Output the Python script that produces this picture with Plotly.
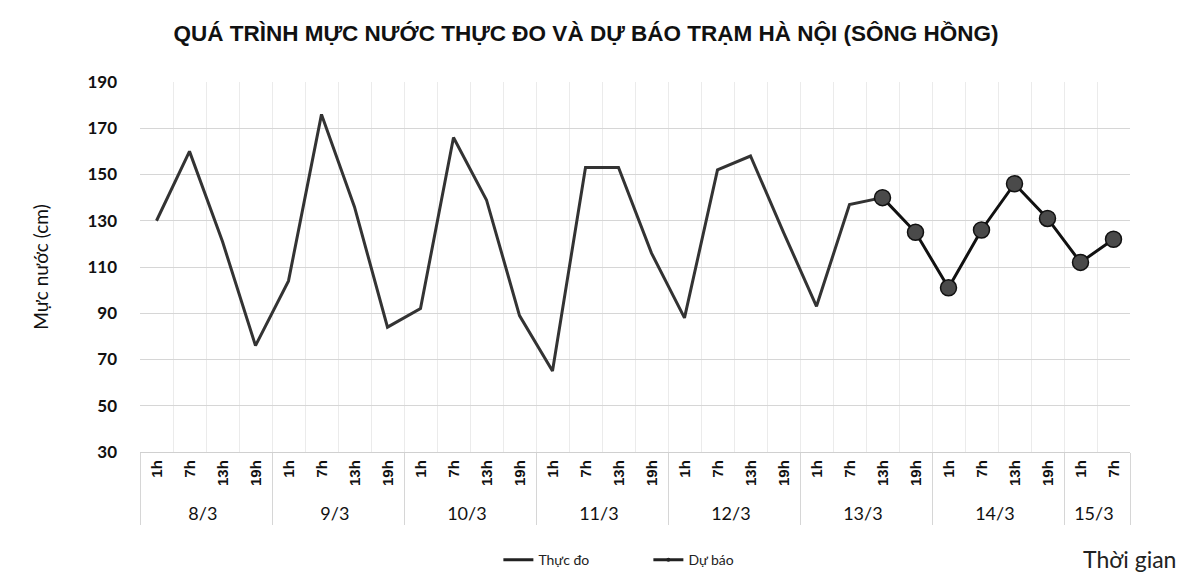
import plotly.graph_objects as go

day_names = ["8/3", "9/3", "10/3", "11/3", "12/3", "13/3", "14/3", "15/3"]
hour_names = ["1h", "7h", "13h", "19h"]
days = [d for d in day_names[:-1] for _ in range(4)] + ["15/3"] * 2
hours = hour_names * 7 + ["1h", "7h"]

# Thực đo (measured) – up to 13/3 13h (joins the forecast)
measured = [130, 160, 121, 76,
            104, 176, 136, 84,
            92, 166, 139, 89,
            65, 153, 153, 116,
            88, 152, 158, 125,
            93, 137, 140, None,
            None, None, None, None,
            None, None]
# Dự báo (forecast) – from 13/3 13h
forecast = [None, None, None, None,
            None, None, None, None,
            None, None, None, None,
            None, None, None, None,
            None, None, None, None,
            None, None, 140, 125,
            101, 126, 146, 131,
            112, 122]

y_ticks = [30, 50, 70, 90, 110, 130, 150, 170, 190]

FONT = "Liberation Sans"
LAB = "Lato"

hour_lbl = ["<span style='font-size:15px;font-family:Liberation Sans'><b>%s</b></span>" % h for h in hours]
X = [days, hour_lbl]

fig = go.Figure()
fig.add_trace(go.Scatter(
    x=X, y=measured, mode="lines", name="Thực đo", showlegend=False,
    line=dict(color="#333333", width=3), connectgaps=False))
fig.add_trace(go.Scatter(
    x=X, y=forecast, mode="lines+markers", name="Dự báo", showlegend=False,
    line=dict(color="#111111", width=3),
    marker=dict(size=16, color="#4a4a4a", line=dict(color="#111111", width=1.5))))
# legend entries (small symbols as in the reference legend)
fig.add_trace(go.Scatter(
    x=[[days[0]], [hour_lbl[0]]], y=[None], mode="lines", name="Thực đo",
    line=dict(color="#222222", width=3)))
fig.add_trace(go.Scatter(
    x=[[days[0]], [hour_lbl[0]]], y=[None], mode="lines+markers", name="Dự báo",
    line=dict(color="#222222", width=3),
    marker=dict(size=4, color="#222222")))

fig.update_layout(
    width=1200, height=582,
    margin=dict(l=132, r=78, t=74, b=138, autoexpand=False),
    paper_bgcolor="white", plot_bgcolor="white",
    title=dict(text="<b>QUÁ TRÌNH MỰC NƯỚC THỰC ĐO VÀ DỰ BÁO TRẠM HÀ NỘI (SÔNG HỒNG)</b>",
               x=578 / 1200, xanchor="center", y=0.957, yanchor="middle",
               font=dict(family=FONT, size=22.5, color="#111111")),
    showlegend=True,
    legend=dict(orientation="h", x=0.362, xanchor="left", y=-0.292, yanchor="middle",
                font=dict(family=LAB, size=14, color="#222222"),
                entrywidth=105, entrywidthmode="pixels",
                bgcolor="rgba(0,0,0,0)"),
    font=dict(family=LAB, color="#222222"),
)

fig.update_xaxes(
    type="multicategory",
    range=[-0.5, 29.5],
    automargin=False,
    showgrid=True, gridcolor="#ebebeb", gridwidth=1,
    showline=True, linecolor="#d0d0d0", linewidth=1,
    tickangle=-90,
    tickfont=dict(family=LAB, size=18, color="#111111"),
    showdividers=True, dividercolor="#d6d6d6", dividerwidth=1,
    ticks="",
)
fig.update_yaxes(
    range=[30, 190],
    tickvals=y_ticks,
    automargin=False,
    showgrid=True, gridcolor="#d6d6d6", gridwidth=1,
    zeroline=False, showline=False,
    tickfont=dict(family=LAB, size=17, color="#111111", weight="bold"),
    ticklabelstandoff=22,
    title=dict(text="Mực nước (cm)", font=dict(family=LAB, size=19, color="#111111"), standoff=33),
)

fig.add_annotation(text="Thời gian", xref="paper", yref="paper",
                   x=1.048, y=-0.29, xanchor="right", yanchor="middle",
                   showarrow=False, font=dict(family=LAB, size=23, color="#222222"))

fig.write_html("out.html")
